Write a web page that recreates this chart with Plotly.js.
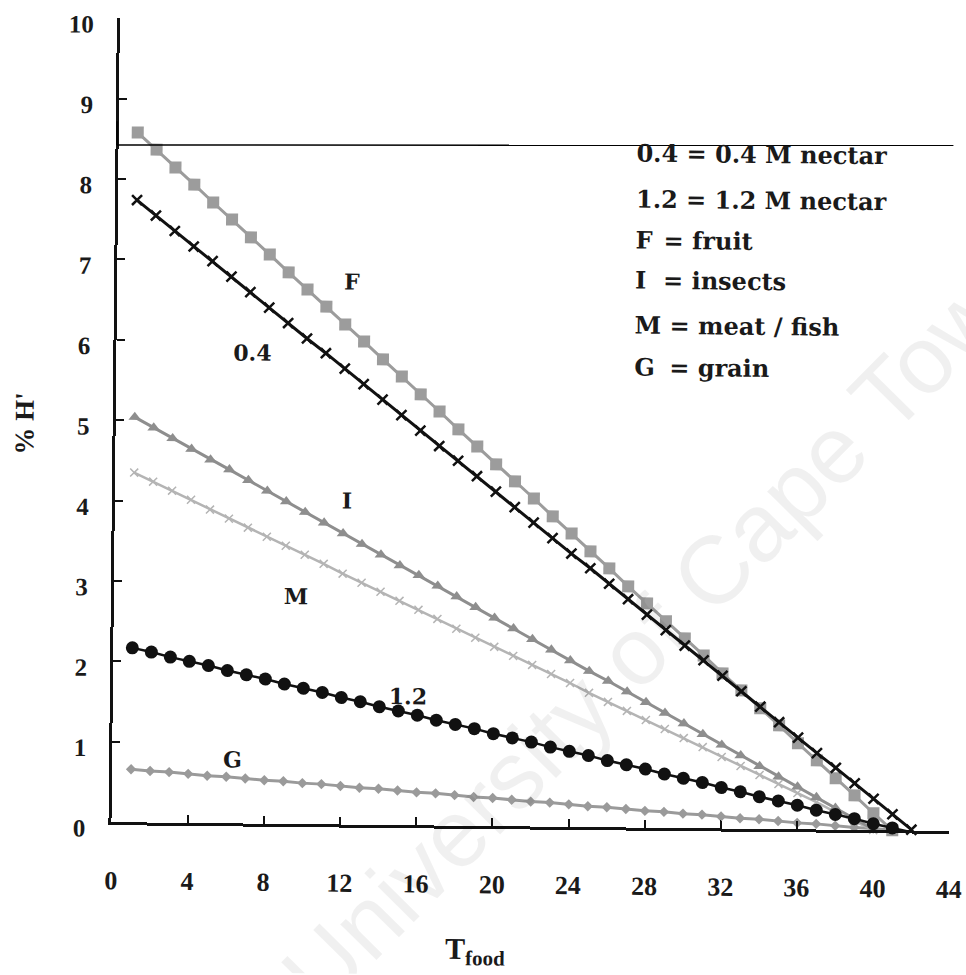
<!DOCTYPE html>
<html>
<head>
<meta charset="utf-8">
<script src="https://cdn.plot.ly/plotly-3.0.1.min.js"></script>
<style>
  html, body { margin: 0; padding: 0; background: #ffffff; overflow: hidden; }
  #chart { width: 966px; height: 975px; transform: rotate(0.6deg); transform-origin: 483px 487px; }
</style>
</head>
<body>
<div id="chart"></div>
<script>
// T_food steps
const tFood = [1,2,3,4,5,6,7,8,9,10,11,12,13,14,15,16,17,18,19,20,21,22,23,24,25,26,27,28,29,30,31,32,33,34,35,36,37,38,39,40,41,42];

// % H' for each diet
const fruitH = [8.58,8.37,8.15,7.94,7.72,7.51,7.29,7.08,6.86,6.65,6.44,6.22,6.01,5.79,5.58,5.36,5.15,4.93,4.72,4.50,4.29,4.08,3.86,3.65,3.43,3.22,3.00,2.79,2.57,2.36,2.15,1.93,1.72,1.50,1.29,1.07,0.86,0.64,0.43,0.21,0.00];
const nectar04H = [7.74,7.55,7.36,7.17,6.99,6.80,6.61,6.42,6.23,6.04,5.86,5.67,5.48,5.29,5.10,4.91,4.72,4.54,4.35,4.16,3.97,3.78,3.59,3.40,3.22,3.03,2.84,2.65,2.46,2.27,2.09,1.90,1.71,1.52,1.33,1.14,0.95,0.77,0.58,0.39,0.20,0.01];
const insectsH = [5.04,4.91,4.78,4.65,4.52,4.40,4.27,4.14,4.01,3.88,3.75,3.62,3.49,3.36,3.23,3.11,2.98,2.85,2.72,2.59,2.46,2.33,2.20,2.07,1.94,1.82,1.69,1.56,1.43,1.30,1.17,1.04,0.91,0.78,0.65,0.53,0.40,0.27,0.14,0.01];
const meatH = [4.35,4.24,4.13,4.02,3.90,3.79,3.68,3.57,3.46,3.35,3.24,3.12,3.01,2.90,2.79,2.68,2.57,2.45,2.34,2.23,2.12,2.01,1.90,1.79,1.67,1.56,1.45,1.34,1.23,1.12,1.01,0.89,0.78,0.67,0.56,0.45,0.34,0.22,0.11,0.00];
const nectar12H = [2.17,2.12,2.06,2.01,1.96,1.90,1.85,1.80,1.74,1.69,1.64,1.58,1.53,1.47,1.42,1.37,1.31,1.26,1.21,1.15,1.10,1.05,0.99,0.94,0.89,0.83,0.78,0.73,0.67,0.62,0.57,0.51,0.46,0.40,0.35,0.30,0.24,0.19,0.14,0.08,0.03,-0.02];
const grainH = [0.66,0.64,0.63,0.61,0.59,0.58,0.56,0.54,0.53,0.51,0.50,0.48,0.46,0.45,0.43,0.41,0.40,0.38,0.36,0.35,0.33,0.31,0.30,0.28,0.26,0.25,0.23,0.21,0.20,0.18,0.17,0.15,0.13,0.12,0.10,0.08,0.07,0.05,0.03,0.02,0.00];

// Axis ticks
const xTicks = [0,4,8,12,16,20,24,28,32,36,40,44];
const yTicks = [0,1,2,3,4,5,6,7,8,9,10];

// Curve labels
const curveLabels = ['F','0.4','I','M','1.2','G'];
const curveLabelX = [12.33,7.12,12.19,9.56,15.5,6.35];
const curveLabelY = [6.75,5.86,4.03,2.83,1.6,0.79];

// Key text
const keyCodes = ['0.4 = 0.4 M nectar','1.2 = 1.2 M nectar','F','I','M','G'];
const keyMeanings = ['','','= fruit','= insects','= meat / fish','= grain'];
const keyRowY = [8.39,7.82,7.31,6.81,6.25,5.73];

const serifBold = '"Liberation Serif", "Times New Roman", serif';
const wideSerif = '"DejaVu Serif", serif';

function series(y, color, lineWidth, marker) {
  return {
    x: tFood.slice(0, y.length), y: y, type: 'scatter', mode: 'lines+markers',
    line: {color: color, width: lineWidth}, marker: marker,
    hoverinfo: 'x+y', showlegend: false, cliponaxis: false
  };
}

const traces = [
  series(grainH, '#9a9a9a', 3, {symbol: 'diamond', size: 8, color: '#9a9a9a'}),
  series(meatH, '#b4b4b4', 2.5, {symbol: 'x-thin', size: 8, color: '#b4b4b4', line: {color: '#b4b4b4', width: 1.5}}),
  series(insectsH, '#8e8e8e', 3, {symbol: 'triangle-up', size: 11, color: '#8e8e8e'}),
  series(fruitH, '#9c9c9c', 3, {symbol: 'square', size: 12, color: '#9c9c9c'}),
  series(nectar12H, '#111111', 2.5, {symbol: 'circle', size: 13, color: '#111111'}),
  series(nectar04H, '#111111', 3, {symbol: 'x-thin', size: 10, color: '#111111', line: {color: '#111111', width: 2.5}})
];

const textFont = {family: wideSerif, size: 24, color: '#1a1a1a', weight: 'bold'};
const annotations = [];
for (let i = 0; i < curveLabels.length; i++) {
  annotations.push({
    x: curveLabelX[i], y: curveLabelY[i], xref: 'x', yref: 'y', text: curveLabels[i],
    showarrow: false, xanchor: 'center', yanchor: 'middle',
    font: {family: wideSerif, size: 22, color: '#1a1a1a', weight: 'bold'}
  });
}
for (let i = 0; i < keyCodes.length; i++) {
  annotations.push({
    x: 27.11, y: keyRowY[i], xref: 'x', yref: 'y', text: keyCodes[i], showarrow: false,
    xanchor: 'left', yanchor: 'middle', font: textFont
  });
  if (keyMeanings[i]) {
    annotations.push({
      x: i < 4 ? 28.58 : 28.95, y: keyRowY[i], xref: 'x', yref: 'y', text: keyMeanings[i], showarrow: false,
      xanchor: 'left', yanchor: 'middle', font: textFont
    });
  }
}
// axis titles
annotations.push({
  x: 0.436, y: -0.155, xref: 'paper', yref: 'paper', text: 'T<sub>food</sub>', showarrow: false,
  xanchor: 'center', yanchor: 'middle', font: {family: serifBold, size: 30, color: '#1a1a1a', weight: 'bold'}
});
annotations.push({
  x: -0.109, y: 0.494, xref: 'paper', yref: 'paper', text: "% H'", showarrow: false, textangle: -90,
  xanchor: 'center', yanchor: 'middle', font: {family: serifBold, size: 27, color: '#1a1a1a', weight: 'bold'}
});
// watermark
annotations.push({
  x: 0.655, y: 0.255, xref: 'paper', yref: 'paper', text: 'University of Cape Town', showarrow: false,
  textangle: -46, xanchor: 'center', yanchor: 'middle',
  font: {family: '"Liberation Sans", Arial, sans-serif', size: 96, color: 'rgba(0,0,0,0.06)'}
});

const layout = {
  width: 966, height: 975,
  margin: {l: 115, r: 13.4, t: 21.7, b: 148.5},
  paper_bgcolor: '#ffffff', plot_bgcolor: '#ffffff',
  xaxis: {
    range: [0, 44], tickvals: xTicks, ticktext: xTicks.map(String),
    showline: true, linecolor: '#111111', linewidth: 3, mirror: false,
    ticks: 'inside', ticklen: 8, tickwidth: 2, tickcolor: '#111111',
    showgrid: false, zeroline: false, ticklabelstandoff: 33,
    tickfont: {family: serifBold, size: 26, color: '#1a1a1a', weight: 'bold'}
  },
  yaxis: {
    range: [0, 10], tickvals: yTicks, ticktext: yTicks.map(String),
    showline: true, linecolor: '#111111', linewidth: 3, mirror: false,
    ticks: 'inside', ticklen: 8, tickwidth: 2, tickcolor: '#111111',
    showgrid: false, zeroline: false, ticklabelstandoff: 18, ticklabelshift: 6,
    tickfont: {family: serifBold, size: 25, color: '#1a1a1a', weight: 'bold'}
  },
  shapes: [
    {type: 'line', xref: 'paper', yref: 'paper', x0: -0.0019, y0: 0.8421, x1: 0.9962, y1: 0.8529,
     line: {color: '#000000', width: 1.5}},
    {type: 'line', xref: 'paper', yref: 'paper', x0: -0.0021, y0: 0.8719, x1: -0.0019, y1: 0.8421,
     line: {color: '#000000', width: 1.5}}
  ],
  annotations: annotations
};

Plotly.newPlot('chart', traces, layout, {staticPlot: true, displayModeBar: false});
</script>
</body>
</html>
